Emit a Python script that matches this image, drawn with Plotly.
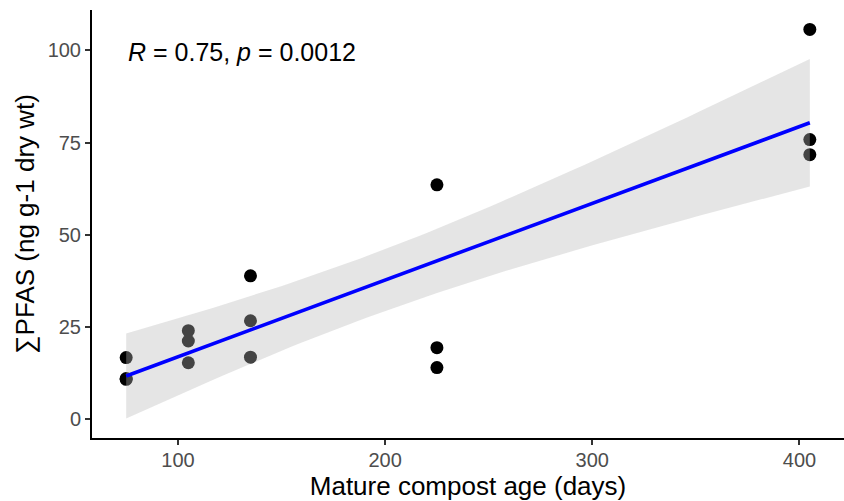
import numpy as np
import plotly.graph_objects as go

# Compost age (days) and summed PFAS concentration (ng g-1 dry wt);
# two samples at 75 days sit almost on top of each other
age_days = [75, 75, 75, 105, 105, 105, 135, 135, 135, 225, 225, 225, 405, 405, 405]
pfas_sum = [16.6, 10.7, 10.9, 23.9, 21.1, 15.2, 38.8, 26.6, 16.7, 63.5, 19.3, 13.9, 105.7, 75.8, 71.7]

x_ticks = [100, 200, 300, 400]
y_ticks = [0, 25, 50, 75, 100]
stat_label = "<i>R</i> = 0.75, <i>p</i> = 0.0012"

# Ordinary least squares fit with a 95% confidence band for the mean
x = np.asarray(age_days, dtype=float)
y = np.asarray(pfas_sum, dtype=float)
n = len(x)
slope, intercept = np.polyfit(x, y, 1)
resid = y - (intercept + slope * x)
s = np.sqrt(np.sum(resid ** 2) / (n - 2))
sxx = np.sum((x - x.mean()) ** 2)
t_crit = 2.160  # two-sided 95%, df = 13
xf = np.linspace(x.min(), x.max(), 80)
yf = intercept + slope * xf
se = s * np.sqrt(1 / n + (xf - x.mean()) ** 2 / sxx)
lo, hi = yf - t_crit * se, yf + t_crit * se

fig = go.Figure()
fig.add_trace(go.Scatter(x=age_days, y=pfas_sum, mode="markers",
                         marker=dict(color="black", size=13, line=dict(width=0)),
                         showlegend=False, hoverinfo="skip"))
fig.add_trace(go.Scatter(x=xf, y=lo, mode="lines", line=dict(width=0),
                         showlegend=False, hoverinfo="skip"))
fig.add_trace(go.Scatter(x=xf, y=hi, mode="lines", line=dict(width=0),
                         fill="tonexty", fillcolor="rgba(185,185,185,0.37)",
                         showlegend=False, hoverinfo="skip"))
fig.add_trace(go.Scatter(x=xf, y=yf, mode="lines",
                         line=dict(color="#0000FF", width=3.6),
                         showlegend=False, hoverinfo="skip"))

x_pad = 0.05 * (max(age_days) - min(age_days))
y_min = min(float(lo.min()), min(pfas_sum))
y_max = max(float(hi.max()), max(pfas_sum))
y_pad = 0.05 * (y_max - y_min)

axis_common = dict(showgrid=False, zeroline=False, showline=True, linecolor="black",
                   linewidth=2, ticks="outside", ticklen=5, tickwidth=2, tickcolor="#333333",
                   tickfont=dict(family="Liberation Sans, Arial", size=20, color="#4D4D4D"))

fig.update_layout(
    width=844, height=501,
    margin=dict(l=92, r=0, t=10, b=63),
    paper_bgcolor="white", plot_bgcolor="white",
    font=dict(family="Liberation Sans, Arial", color="black"),
    xaxis=dict(range=[min(age_days) - x_pad, max(age_days) + x_pad],
               tickvals=x_ticks, ticktext=[str(v) for v in x_ticks],
               ticklabelstandoff=-2,
               title=dict(text="Mature compost age (days)", font=dict(size=26), standoff=4),
               **axis_common),
    yaxis=dict(range=[y_min - y_pad, y_max + y_pad],
               tickvals=y_ticks, ticktext=[str(v) for v in y_ticks],
               title=dict(text="∑PFAS (ng g-1 dry wt)", font=dict(size=26), standoff=6),
               **axis_common),
    annotations=[dict(x=75, y=max(pfas_sum) - 6, xref="x", yref="y", xanchor="left",
                      yanchor="middle", text=stat_label, showarrow=False,
                      font=dict(size=25, color="black"))],
)

fig.write_html("out.html")
